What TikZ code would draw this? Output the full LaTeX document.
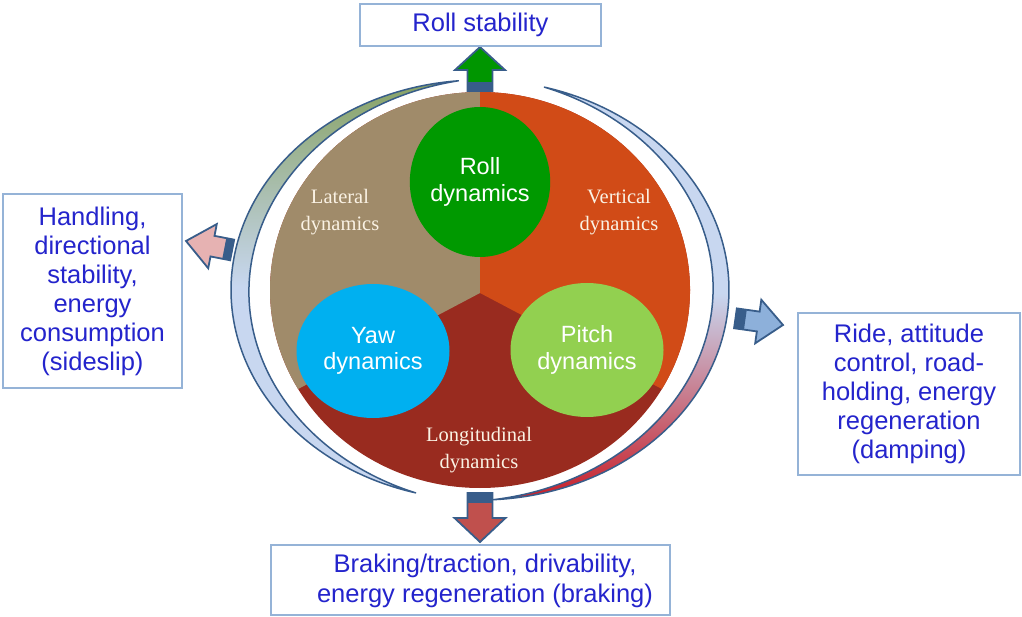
\documentclass[tikz,border=0pt]{standalone}
\usepackage{fontspec}
\setmainfont{Liberation Sans}
\newfontfamily\labelserif{Liberation Serif}
\usetikzlibrary{shapes.geometric}

% palette
\definecolor{lateralc}{RGB}{160,139,106}
\definecolor{verticalc}{RGB}{209,75,23}
\definecolor{longitc}{RGB}{153,43,31}
\definecolor{rollc}{RGB}{0,153,0}
\definecolor{yawc}{RGB}{0,176,240}
\definecolor{pitchc}{RGB}{146,208,80}
\definecolor{labelc}{RGB}{250,242,228}
\definecolor{boxline}{RGB}{149,179,215}
\definecolor{boxtextc}{RGB}{36,36,204}
\definecolor{arrline}{RGB}{56,93,138}
\definecolor{arrgreen}{RGB}{0,150,0}
\definecolor{arrpink}{RGB}{230,178,178}
\definecolor{arrblue}{RGB}{141,176,218}
\definecolor{arrred}{RGB}{192,80,77}
\definecolor{ringolive}{RGB}{135,162,100}
\definecolor{ringblue}{RGB}{200,215,240}
\definecolor{ringred}{RGB}{200,30,40}

\tikzset{
  outcome/.style={draw=boxline, line width=1.3pt, fill=white, inner sep=0pt,
    text=boxtextc, align=center, font=\fontsize{25.5}{29}\selectfont},
  outtext/.style={text=boxtextc, align=center, inner sep=0pt,
    font=\fontsize{25.5}{30.5}\selectfont},
  blob/.style={ellipse, inner sep=0pt, text=white, align=center,
    font=\fontsize{23.5}{26.5}\selectfont},
  sectorlabel/.style={text=labelc, align=center, inner sep=0pt,
    font=\labelserif\fontsize{20.5}{27}\selectfont},
  ring/.style={draw=arrline, line width=1.5pt, line join=round},
}

% block arrow: tip x, tip y, direction, fill, head length,
% head half-width, shaft half-width, total length, back stub length
\newcommand\blockarrow[9]{%
  \begin{scope}[shift={(#1,#2)}, rotate=#3]
    \filldraw[fill=#4, draw=arrline, line width=1.8pt, line join=miter]
      (0,0) -- (-#5,#6) -- (-#5,#7) -- (-#8,#7) -- (-#8,-#7)
      -- (-#5,-#7) -- (-#5,-#6) -- cycle;
    \fill[arrline] (-#8,#7) rectangle ({-#8+#9},-#7);
  \end{scope}}

\begin{document}
\begin{tikzpicture}[x=1pt,y=1pt]
\useasboundingbox (0,0) rectangle (1022,-617);

% three-sector disk
\coordinate (hub) at (480,-293);
\fill[longitc] (480,-290) ellipse[x radius=210, y radius=198];
\fill[lateralc] (hub) -- (480,-92)
  arc[start angle=90, end angle=210, x radius=210, y radius=198] -- cycle;
\fill[verticalc] (hub) -- (661.87,-389)
  arc[start angle=-30, end angle=90, x radius=210, y radius=198] -- cycle;

% dynamics blobs
\node[blob, fill=rollc, minimum width=134pt, minimum height=150pt] (roll)
  at (480,-182) {Roll\\dynamics};
\node[blob, fill=yawc, minimum width=153pt, minimum height=134pt] (yaw)
  at (373,-351) {Yaw\\dynamics};
\node[blob, fill=pitchc, minimum width=153pt, minimum height=134pt] (pitch)
  at (587,-350) {Pitch\\dynamics};

% sector names
\node[sectorlabel] (lateral) at (340,-212) {Lateral\\dynamics};
\node[sectorlabel] (vertical) at (619,-212) {Vertical\\dynamics};
\node[sectorlabel] (longit) at (479,-450) {Longitudinal\\dynamics};

% left crescent
\path[ring, top color=ringolive, bottom color=ringblue, middle color=ringblue]
  plot[domain=95:255, samples=90, smooth]
    ({480+249*cos(\x)},{-290+210*sin(\x)})
  -- plot[domain=255:95, samples=90, smooth]
    ({480+(249-18*sin((\x-95)*1.125))*cos(\x)},
     {-290+(210-18*sin((\x-95)*1.125))*sin(\x)})
  -- cycle;

% right crescent
\path[ring, top color=ringblue, bottom color=ringred, middle color=ringblue]
  plot[domain=75:-87, samples=90, smooth]
    ({480+249*cos(\x)},{-290+210*sin(\x)})
  -- plot[domain=-87:75, samples=90, smooth]
    ({480+(249-16*sin((75-\x)*1.1111))*cos(\x)},
     {-290+(210-16*sin((75-\x)*1.1111))*sin(\x)})
  -- cycle;

% outgoing block arrows
\blockarrow{480}{-47}{90}{arrgreen}{23}{25}{12.5}{44}{9}
\blockarrow{480}{-542}{-90}{arrred}{24}{25.5}{12.5}{49}{10}
\blockarrow{186}{-241}{169}{arrpink}{27}{22.5}{10.5}{47}{8}
\blockarrow{783}{-325}{-8}{arrblue}{25}{22}{10}{48}{10}

% outcome boxes
\node[outcome, minimum width=241pt, minimum height=42pt] (rollstab)
  at (480.5,-25) {Roll stability};
\node[outcome, minimum width=179pt, minimum height=194pt] (handling)
  at (92.5,-291) {Handling,\\directional\\stability,\\energy\\consumption\\(sideslip)};
\node[outcome, minimum width=222pt, minimum height=162pt] (ride)
  at (909,-394) {Ride, attitude\\control, road-\\holding, energy\\regeneration\\(damping)};
\node[outcome, minimum width=399pt, minimum height=70pt] (braking)
  at (470.5,-580) {};
\node[outtext] (brakingtext) at (485,-581)
  {Braking/traction, drivability,\\energy regeneration (braking)};
\end{tikzpicture}
\end{document}
